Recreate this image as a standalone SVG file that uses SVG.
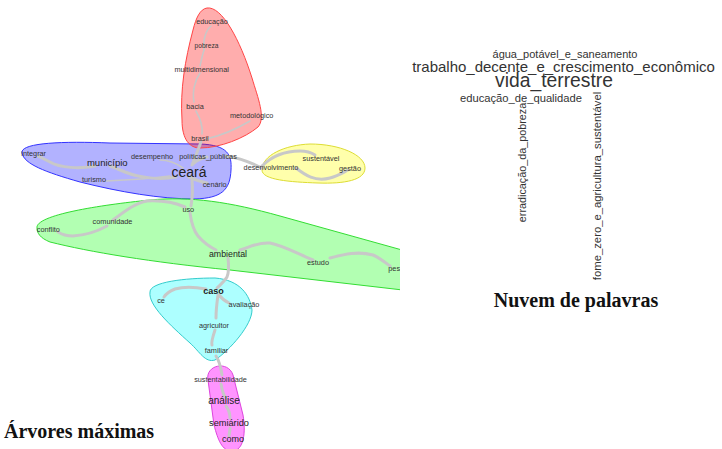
<svg xmlns="http://www.w3.org/2000/svg" width="722" height="449" viewBox="0 0 722 449">
  <style>
    .lbl { font-family: "Liberation Sans", Arial, sans-serif; font-size: 7.3px; fill: #333; text-anchor: middle; }
    .big { font-family: "Liberation Sans", Arial, sans-serif; fill: #222; text-anchor: middle; }
    .cloud { font-family: "Liberation Sans", Arial, sans-serif; fill: #333; text-anchor: middle; }
    .cap { font-family: "Liberation Serif", "Times New Roman", serif; font-weight: bold; font-size: 20px; fill: #111; }
    .edge { fill: none; stroke: #c8c8c8; stroke-linecap: round; stroke-linejoin: round; }
    .thick { stroke-width: 3; }
    .thin { stroke-width: 1.6; }
  </style>
  <defs>
    <clipPath id="panel">
      <rect x="0" y="0" width="400" height="449"/>
    </clipPath>
  </defs>
  <rect width="722" height="449" fill="#ffffff"/>

  <g clip-path="url(#panel)">
    <!-- community hulls -->
    <g id="hulls">
      <path id="hull-blue" d="M 22 153 C 20 143 60 141 110 143 L 200 144 C 228 145 232 155 231 170 C 230 190 222 198 195 199 C 160 199 120 192 80 182 C 45 172 24 164 22 153 Z" fill="#0000ff" fill-opacity="0.3" stroke="#3333ff" stroke-width="1"/>
      <path id="hull-red" d="M 207 8 C 222 6 240 40 252 78 C 258 98 266 118 258 127 C 245 138 220 148 200 148 C 190 148 182 140 182 120 C 180 90 185 60 193 30 C 196 18 200 9 207 8 Z" fill="#ff0000" fill-opacity="0.32" stroke="#ff4444" stroke-width="1"/>
      <path id="hull-yellow" d="M 262 170 C 262 155 285 145 310 144 C 340 144 365 155 365 168 C 365 180 345 184 318 183 C 290 182 262 180 262 170 Z" fill="#ffff00" fill-opacity="0.33" stroke="#dddd33" stroke-width="1"/>
      <path id="hull-green" d="M 37 228 C 35 215 100 205 150 200 C 190 196 230 202 280 216 L 420 255 L 420 292 L 230 270 C 150 262 90 252 50 242 C 40 238 37 233 37 228 Z" fill="#00ff00" fill-opacity="0.3" stroke="#33dd33" stroke-width="1"/>
      <path id="hull-cyan" d="M 150 292 C 150 282 185 278 215 278 C 240 280 250 295 252 310 C 252 325 230 350 215 360 C 205 363 200 352 190 343 C 170 325 148 305 150 292 Z" fill="#00ffff" fill-opacity="0.32" stroke="#33cccc" stroke-width="1"/>
      <path id="hull-magenta" d="M 208 380 C 205 365 228 360 233 375 L 243 415 C 246 432 244 451 232 451 C 222 451 218 440 214 425 Z" fill="#ff00ff" fill-opacity="0.42" stroke="#dd44dd" stroke-width="1"/>
    </g>

    <!-- tree edges -->
    <g id="connectors">
      <path class="edge thin" d="M 211 26 C 204 32 203 44 204 50"/>
      <path class="edge thin" d="M 204 50 C 202 56 201 62 200 66"/>
      <path class="edge thin" d="M 200 73 C 195 80 192 92 194 102"/>
      <path class="edge thin" d="M 196 111 C 200 118 203 126 202 134"/>
      <path class="edge thin" d="M 206 139 C 220 136 238 128 250 121"/>
      <path class="edge thick" d="M 201 142 C 198 150 195 158 192 165"/>
      <path class="edge thick" d="M 193 164 C 197 160 202 158 207 157"/>
      <path class="edge thick" d="M 226 156 C 240 158 252 163 262 168"/>
      <path class="edge thick" d="M 262 166 C 270 158 283 151 300 151 C 308 151 312 153 315 155"/>
      <path class="edge thick" d="M 296 168 C 305 175 315 182 330 178 C 338 176 344 172 348 170"/>
      <path class="edge thin" d="M 183 168 C 176 163 168 160 160 160"/>
      <path class="edge thick" d="M 176 177 C 160 180 140 178 125 172 C 118 169 113 167 110 166"/>
      <path class="edge thick" d="M 95 166 C 80 169 60 168 50 162 C 44 159 40 157 38 156"/>
      <path class="edge thin" d="M 106 181 C 130 180 155 178 170 176"/>
      <path class="edge thick" d="M 189 177 C 196 180 202 182 207 183"/>
      <path class="edge thick" d="M 192 180 C 193 190 192 200 191 206"/>
      <path class="edge thick" d="M 185 207 C 178 204 165 200 147 201 C 135 203 124 212 113 220"/>
      <path class="edge thick" d="M 107 226 C 98 231 88 235 73 236 C 66 236 61 234 58 232"/>
      <path class="edge thick" d="M 190 213 C 191 220 193 230 198 236 C 204 243 210 247 216 250"/>
      <path class="edge thick" d="M 240 250 C 250 247 258 242 270 243 C 285 246 300 255 313 260"/>
      <path class="edge thick" d="M 330 258 C 345 254 358 251 373 255 C 380 258 386 263 390 266"/>
      <path class="edge thick" d="M 228 258 C 229 266 229 272 227 277 C 224 282 220 285 217 288"/>
      <path class="edge thick" d="M 206 289 C 195 287 182 287 175 289 C 170 291 166 294 164 297"/>
      <path class="edge thick" d="M 219 295 C 222 299 225 301 229 303"/>
      <path class="edge thick" d="M 218 295 C 217 302 216 310 216 318"/>
      <path class="edge thick" d="M 215 330 C 213 336 211 342 212 345"/>
      <path class="edge thick" d="M 216 356 C 220 362 221 368 222 375"/>
      <path class="edge thick" d="M 221 384 C 222 390 224 396 226 398"/>
      <path class="edge thick" d="M 226 406 C 229 410 230 414 230 418"/>
      <path class="edge thick" d="M 230 428 C 230 432 229 434 229 436"/>
    </g>

    <!-- nodes -->
    <g id="node-educacao"><text class="lbl" x="212" y="24.3">educação</text></g>
    <g id="node-pobreza"><text class="lbl" x="206.5" y="47.7" style="font-size:6.6px">pobreza</text></g>
    <g id="node-multidimensional"><text class="lbl" x="201.7" y="72">multidimensional</text></g>
    <g id="node-bacia"><text class="lbl" x="195" y="109.3">bacia</text></g>
    <g id="node-metodologico"><text class="lbl" x="251.7" y="118.3">metodológico</text></g>
    <g id="node-brasil"><text class="lbl" x="200" y="141">brasil</text></g>

    <g id="node-integrar"><text class="lbl" x="33.7" y="155.7">integrar</text></g>
    <g id="node-municipio"><text class="big" x="107.3" y="165.7" style="font-size:9.5px">município</text></g>
    <g id="node-desempenho"><text class="lbl" x="152" y="158.7">desempenho</text></g>
    <g id="node-politicas"><text class="lbl" x="208" y="158.7">políticas_públicas</text></g>
    <g id="node-ceara"><text class="big" x="189" y="176.7" style="font-size:14px">ceará</text></g>
    <g id="node-turismo"><text class="lbl" x="94" y="181.7">turismo</text></g>
    <g id="node-cenario"><text class="lbl" x="214.7" y="186.7">cenário</text></g>

    <g id="node-sustentavel"><text class="lbl" x="321" y="160.7">sustentável</text></g>
    <g id="node-desenvolvimento"><text class="lbl" x="271" y="170">desenvolvimento</text></g>
    <g id="node-gestao"><text class="lbl" x="350" y="170.7">gestão</text></g>

    <g id="node-uso"><text class="lbl" x="188.3" y="212.3">uso</text></g>
    <g id="node-comunidade"><text class="lbl" x="112.5" y="224.3">comunidade</text></g>
    <g id="node-conflito"><text class="lbl" x="48.3" y="232.3">conflito</text></g>
    <g id="node-ambiental"><text class="big" x="228" y="256.7" style="font-size:8.8px">ambiental</text></g>
    <g id="node-estudo"><text class="lbl" x="318" y="265">estudo</text></g>
    <g id="node-pesquisa"><text class="lbl" x="388.3" y="271" style="text-anchor:start">pesquisa</text></g>
  </g>

  <g id="node-caso"><text class="big" x="213.5" y="294" style="font-size:9px;font-weight:bold">caso</text></g>
  <g id="node-ce"><text class="lbl" x="161" y="303.3">ce</text></g>
  <g id="node-avaliacao"><text class="lbl" x="244" y="307">avaliação</text></g>
  <g id="node-agricultor"><text class="lbl" x="214" y="327.7">agricultor</text></g>
  <g id="node-familiar"><text class="lbl" x="216.5" y="353.3">familiar</text></g>
  <g id="node-sustentabilidade"><text class="lbl" x="220.5" y="382">sustentabilidade</text></g>
  <g id="node-analise"><text class="big" x="224" y="404" style="font-size:10px">análise</text></g>
  <g id="node-semiarido"><text class="big" x="229" y="425.7" style="font-size:9.2px">semiárido</text></g>
  <g id="node-como"><text class="big" x="233" y="442" style="font-size:9px">como</text></g>

  <!-- word cloud -->
  <g id="wordcloud">
    <text class="cloud" x="565" y="57.5" style="font-size:11px">água_potável_e_saneamento</text>
    <text class="cloud" x="563.5" y="71.5" style="font-size:15px">trabalho_decente_e_crescimento_econômico</text>
    <text class="cloud" x="554" y="87" style="font-size:19.3px">vida_terrestre</text>
    <text class="cloud" x="521" y="102" style="font-size:11.2px">educação_de_qualidade</text>
    <text class="cloud" transform="translate(526 162.5) rotate(-90)" style="font-size:10.8px">erradicação_da_pobreza</text>
    <text class="cloud" transform="translate(600.5 186) rotate(-90)" style="font-size:11.3px">fome_zero_e_agricultura_sustentável</text>
  </g>

  <!-- captions -->
  <text class="cap" x="576" y="307" text-anchor="middle">Nuvem de palavras</text>
  <text class="cap" x="4" y="438">Árvores máximas</text>
</svg>
